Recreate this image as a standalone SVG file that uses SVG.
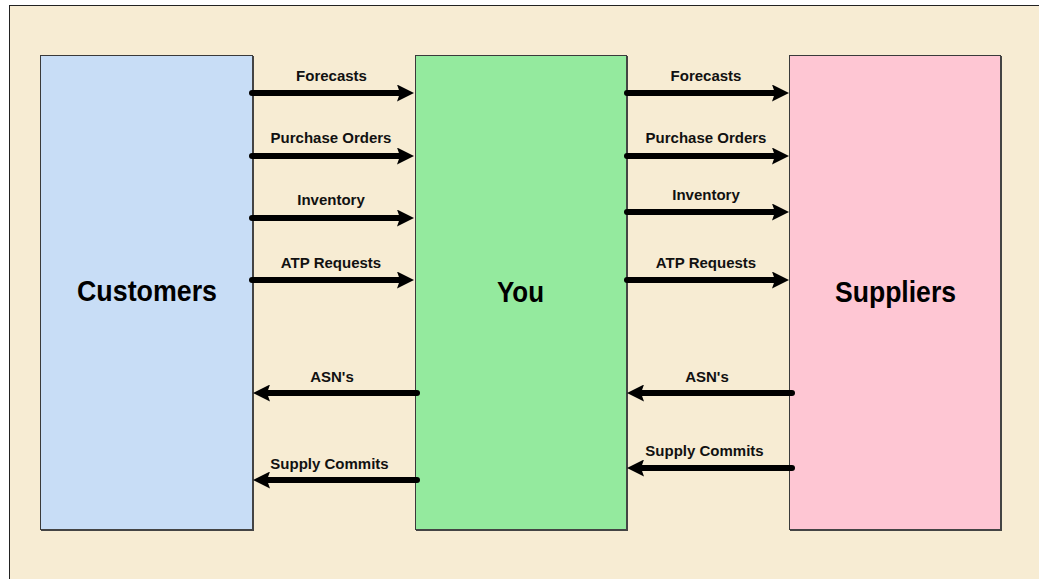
<svg xmlns="http://www.w3.org/2000/svg" width="1039" height="579" viewBox="0 0 1039 579">
<style>
.lbl{font-family:"Liberation Sans",Arial,sans-serif;font-weight:bold;font-size:15px;fill:#111;text-anchor:middle}
.big{font-family:"Liberation Sans",Arial,sans-serif;font-weight:bold;font-size:29px;fill:#000;text-anchor:middle}
.box{stroke:#3a3a3a;stroke-width:1}
.sh{stroke:#444;stroke-width:2;fill:none}
.arr{stroke:#000;stroke-width:6;stroke-linecap:round;fill:none}
</style>
<defs>
<marker id="ah" viewBox="0 0 17 17" refX="2" refY="8.5" markerUnits="userSpaceOnUse" markerWidth="17" markerHeight="17" orient="auto">
<path d="M0,0 L17,8.5 L0,17 L3,8.5 Z" fill="#000"/>
</marker>
</defs>
<rect x="9.5" y="5.5" width="1040" height="590" fill="#F7ECD3" stroke="#222" stroke-width="1"/>
<g id="customers">
<rect class="box" x="40.5" y="55.5" width="212" height="474" fill="#C8DDF6"/>
<polyline class="sh" points="41,530 253,530 253,56"/>
<text class="big" x="147" y="301" textLength="140" lengthAdjust="spacingAndGlyphs">Customers</text>
</g>
<g id="you">
<rect class="box" x="415.5" y="55.5" width="211" height="474" fill="#94EA9E"/>
<polyline class="sh" points="416,530 627,530 627,56"/>
<text class="big" x="520.5" y="302" textLength="47" lengthAdjust="spacingAndGlyphs">You</text>
</g>
<g id="suppliers">
<rect class="box" x="789.5" y="55.5" width="211" height="474" fill="#FEC6D3"/>
<polyline class="sh" points="790,530 1001,530 1001,56"/>
<text class="big" x="895.5" y="302" textLength="121" lengthAdjust="spacingAndGlyphs">Suppliers</text>
</g>
<g id="connectors">
<line class="arr" x1="252" y1="93" x2="399" y2="93" marker-end="url(#ah)"/>
<line class="arr" x1="252" y1="156" x2="399" y2="156" marker-end="url(#ah)"/>
<line class="arr" x1="252" y1="218" x2="399" y2="218" marker-end="url(#ah)"/>
<line class="arr" x1="252" y1="280" x2="399" y2="280" marker-end="url(#ah)"/>
<line class="arr" x1="417" y1="393" x2="268" y2="393" marker-end="url(#ah)"/>
<line class="arr" x1="417" y1="480" x2="268" y2="480" marker-end="url(#ah)"/>
<line class="arr" x1="627" y1="93" x2="774" y2="93" marker-end="url(#ah)"/>
<line class="arr" x1="627" y1="156" x2="774" y2="156" marker-end="url(#ah)"/>
<line class="arr" x1="627" y1="212" x2="774" y2="212" marker-end="url(#ah)"/>
<line class="arr" x1="627" y1="280" x2="774" y2="280" marker-end="url(#ah)"/>
<line class="arr" x1="792" y1="393" x2="642" y2="393" marker-end="url(#ah)"/>
<line class="arr" x1="792" y1="468" x2="642" y2="468" marker-end="url(#ah)"/>
<text class="lbl" x="331.5" y="81">Forecasts</text>
<text class="lbl" x="331" y="143">Purchase Orders</text>
<text class="lbl" x="331" y="205">Inventory</text>
<text class="lbl" x="331" y="268">ATP Requests</text>
<text class="lbl" x="332" y="382">ASN's</text>
<text class="lbl" x="329.5" y="469">Supply Commits</text>
<text class="lbl" x="706" y="81">Forecasts</text>
<text class="lbl" x="706" y="143">Purchase Orders</text>
<text class="lbl" x="706" y="200">Inventory</text>
<text class="lbl" x="706" y="268">ATP Requests</text>
<text class="lbl" x="707" y="382">ASN's</text>
<text class="lbl" x="704.5" y="456">Supply Commits</text>
</g>
</svg>
